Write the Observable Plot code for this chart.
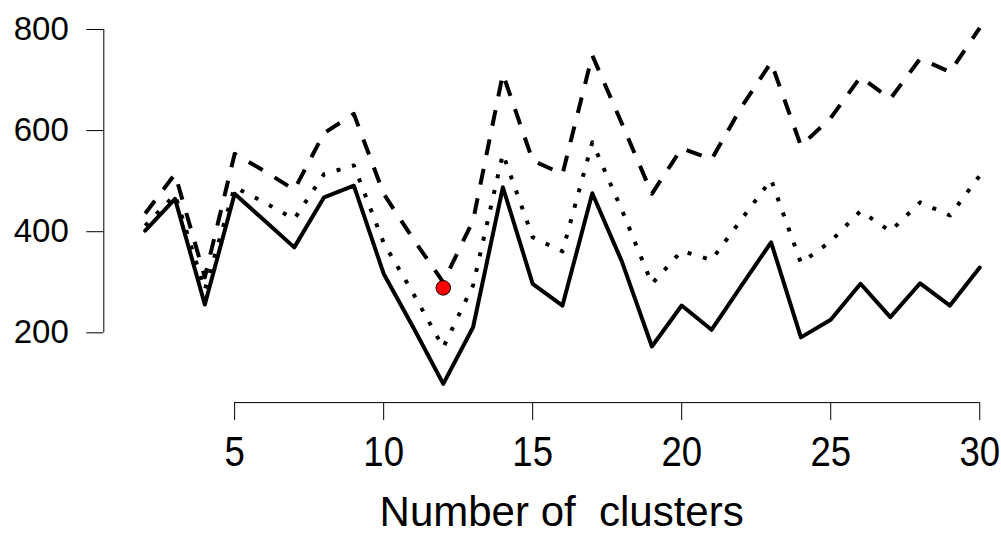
<!DOCTYPE html>
<html>
<head>
<meta charset="utf-8">
<script src="https://cdn.jsdelivr.net/npm/d3@7"></script>
<script src="https://cdn.jsdelivr.net/npm/@observablehq/plot@0.6"></script>
<style>
html, body { margin: 0; padding: 0; background: #fff; }
svg text { white-space: pre; }
</style>
</head>
<body>
<div id="chart"></div>
<script>
// ---- data ----
const clusters = [2,3,4,5,6,7,8,9,10,11,12,13,14,15,16,17,18,19,20,21,22,23,24,25,26,27,28,29,30];
const solidValues  = [402,465,256,475,422,369,468,491,317,210, 99,211,488,297,254,476,340,173,254,206,293,379,191,226,297,231,298,254,329];
const dottedValues = [412,473,285,488,458,425,514,531,378,277,171,294,554,389,361,577,442,297,362,344,424,503,338,381,441,401,458,432,511];
const dashedValues = [436,514,310,554,520,483,595,633,475,385,300,422,712,541,514,749,613,475,565,543,646,735,570,625,706,663,742,716,803];
const highlightCluster = [12];
const highlightValue = [289];
const xTicks = [5,10,15,20,25,30];
const yTicks = [200,400,600,800];
const xLabel = "Number of  clusters";

const rows = vals => clusters.map((k, i) => ({k, v: vals[i]}));
const solidRows = rows(solidValues);
const dottedRows = rows(dottedValues);
const dashedRows = rows(dashedValues);
const highlightRows = highlightCluster.map((k, i) => ({k, v: highlightValue[i]}));

const xDomain = [0.61, 30.73];
const yDomain = [62, 832];

const chart = Plot.plot({
  width: 1001,
  height: 534,
  marginLeft: 103.3,
  marginRight: 0,
  marginTop: 12.8,
  marginBottom: 131.9,
  style: {fontFamily: '"Liberation Sans", Arial, sans-serif', background: "#fff", color: "#000"},
  x: {domain: xDomain},
  y: {domain: yDomain},
  marks: [
    Plot.axisY(yTicks, {anchor: "left", tickSize: 17, tickPadding: 18, fontSize: 33, label: null}),
    Plot.axisX(xTicks, {anchor: "bottom", tickSize: 18, tickPadding: 15, fontSize: 43, label: null}),
    Plot.ruleX([xDomain[0]], {y1: d3.min(yTicks), y2: d3.max(yTicks), stroke: "#000"}),
    Plot.ruleY([yDomain[0]], {x1: d3.min(xTicks), x2: d3.max(xTicks), stroke: "#000"}),
    Plot.line(solidRows, {x: "k", y: "v", stroke: "#000", strokeWidth: 4, strokeLinejoin: "round", strokeLinecap: "round"}),
    Plot.line(dottedRows, {x: "k", y: "v", stroke: "#000", strokeWidth: 4, strokeDasharray: "4,12", strokeLinecap: "butt"}),
    Plot.line(dashedRows, {x: "k", y: "v", stroke: "#000", strokeWidth: 4, strokeDasharray: "16,14", strokeLinecap: "butt"}),
    Plot.dot(highlightRows, {x: "k", y: "v", r: 7.3, fill: "#ff0000", stroke: "#000", strokeWidth: 1}),
    Plot.text([xLabel], {frameAnchor: "bottom", lineAnchor: "middle", dy: 110, dx: 9, fontSize: 42, fill: "#000"})
  ]
});

// slightly condensed x tick labels, as in the reference
chart.querySelectorAll('g[aria-label="x-axis tick label"] text').forEach(t => {
  const tr = t.getAttribute("transform");
  if (tr) {
    t.setAttribute("transform", tr + " scale(0.85,1)");
  } else {
    const x = +t.getAttribute("x") || 0, y = +t.getAttribute("y") || 0;
    t.removeAttribute("x"); t.removeAttribute("y");
    t.setAttribute("transform", `translate(${x},${y}) scale(0.85,1)`);
  }
});

document.getElementById("chart").appendChild(chart);
</script>
</body>
</html>
